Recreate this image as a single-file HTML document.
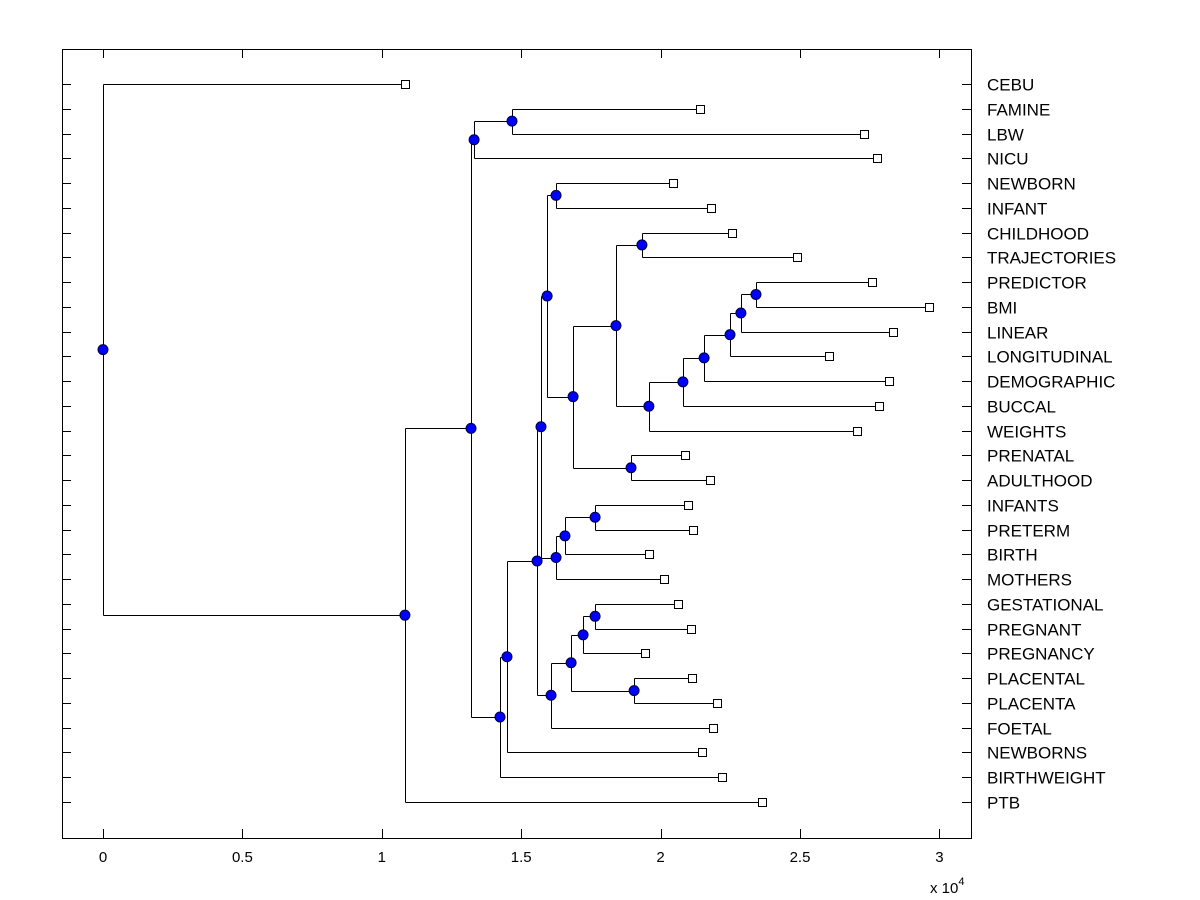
<!DOCTYPE html>
<html><head><meta charset="utf-8"><style>
html,body{margin:0;padding:0;background:#fff;}
svg{display:block;font-family:"Liberation Sans",Arial,sans-serif;}
</style></head><body>
<svg id="chart" width="1200" height="900" xmlns="http://www.w3.org/2000/svg">
<rect x="0" y="0" width="1200" height="900" fill="#fff"/>
<g id="plot"></g>
</svg>
<script>
const leafLabels = ["CEBU","FAMINE","LBW","NICU","NEWBORN","INFANT","CHILDHOOD","TRAJECTORIES","PREDICTOR","BMI","LINEAR","LONGITUDINAL","DEMOGRAPHIC","BUCCAL","WEIGHTS","PRENATAL","ADULTHOOD","INFANTS","PRETERM","BIRTH","MOTHERS","GESTATIONAL","PREGNANT","PREGNANCY","PLACENTAL","PLACENTA","FOETAL","NEWBORNS","BIRTHWEIGHT","PTB"];
const leafHeights = [1.083,2.141,2.730,2.776,2.044,2.181,2.256,2.489,2.758,2.963,2.834,2.604,2.819,2.783,2.704,2.088,2.177,2.098,2.116,1.958,2.012,2.062,2.109,1.944,2.113,2.202,2.188,2.148,2.220,2.364];
const mergeLeft  = [1,30,4,6,8,34,35,36,37,38,33,15,40,32,17,44,45,43,21,48,24,49,51,47,53,54,31,56,0];
const mergeRight = [2,3,5,7,9,10,11,12,13,14,39,16,41,42,18,19,20,46,22,23,25,50,26,52,27,28,55,29,57];
const mergeHeights = [1.467,1.331,1.625,1.933,2.342,2.288,2.249,2.156,2.080,1.958,1.840,1.894,1.686,1.593,1.765,1.657,1.625,1.571,1.765,1.722,1.905,1.679,1.607,1.557,1.449,1.424,1.320,1.083,0];
const xTicks = [0,0.5,1,1.5,2,2.5,3];
const xTickLabels = ["0","0.5","1","1.5","2","2.5","3"];

const NS="http://www.w3.org/2000/svg";
const g=document.getElementById('plot');
const L=62,R=971,T=49,B=838;
const xs=v=>103+v*278.8;
const ys=i=>84+i*(802-84)/29;
function mk(tag,attrs){const e=document.createElementNS(NS,tag);for(const k in attrs)e.setAttribute(k,attrs[k]);g.appendChild(e);return e;}

let box=mk('rect',{x:L+.5,y:T+.5,width:R-L,height:B-T,fill:'none',stroke:'#000','stroke-width':1});



xTicks.forEach((v,i)=>{
  const x=Math.round(xs(v))+.5;
  let t1=mk('line',{x1:x,x2:x,y1:B,y2:B-9,stroke:'#000'});
  
  
  let t2=mk('line',{x1:x,x2:x,y1:T,y2:T+9,stroke:'#000'});
  
  
  let tx=mk('text',{x:xs(v),y:B+24,'font-size':15,'text-anchor':'middle',fill:'#000'});
  tx.textContent=xTickLabels[i];
  
  
});
let ex=mk('text',{x:930,y:893,'font-size':15,fill:'#000'});
ex.innerHTML='x 10<tspan dy="-8" font-size="11">4</tspan>';



leafLabels.forEach((lab,i)=>{
  const y=Math.round(ys(i))+.5;
  let a=mk('line',{x1:L,x2:L+9,y1:y,y2:y,stroke:'#000'});
  
  
  let b=mk('line',{x1:R-9,x2:R,y1:y,y2:y,stroke:'#000'});
  
  
  let t=mk('text',{x:987,y:y+6,'font-size':17,fill:'#000'});
  t.textContent=lab;
  
  
});

const nodeX=[],nodeY=[];
leafHeights.forEach((h,i)=>{nodeX[i]=xs(h);nodeY[i]=ys(i);});
const n=leafLabels.length;
mergeHeights.forEach((h,k)=>{
  const a=mergeLeft[k],b=mergeRight[k],id=n+k;
  nodeX[id]=xs(h);nodeY[id]=(nodeY[a]+nodeY[b])/2;
});
const circles=[];
mergeHeights.forEach((h,k)=>{
  const a=mergeLeft[k],b=mergeRight[k],id=n+k;
  const x=Math.round(nodeX[id])+.5;
  let v=mk('line',{x1:x,x2:x,y1:Math.round(nodeY[a])+.5,y2:Math.round(nodeY[b])+.5,stroke:'#000'});
  
  
  [a,b].forEach(c=>{
    const y=Math.round(nodeY[c])+.5;
    let hl=mk('line',{x1:x,x2:Math.round(nodeX[c])+.5,y1:y,y2:y,stroke:'#000'});
    
    
  });
  circles.push([nodeX[id],nodeY[id]]);
});
circles.forEach(([x,y])=>{
  let c=mk('circle',{cx:x,cy:y,r:5,fill:'#0000ff',stroke:'#00003a','stroke-width':1});
  
  
});
leafHeights.forEach((h,i)=>{
  let s=mk('rect',{x:Math.round(xs(h))-3.5,y:Math.round(ys(i))-3.5,width:8,height:8,fill:'#fff',stroke:'#000'});
  
  
});
</script>
</body></html>
